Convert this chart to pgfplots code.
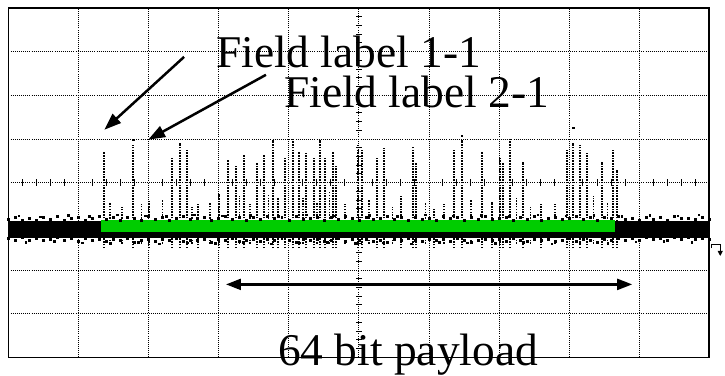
\documentclass[border=0pt]{standalone}
\usepackage{fontspec}
\setmainfont{Liberation Serif}
\usepackage{pgfplots}
\pgfplotsset{compat=1.18}
\usepackage{pgfplotstable}
\usetikzlibrary{arrows.meta}
\definecolor{scopegreen}{RGB}{0,204,0}

% spikes: bottom, top, break
\pgfplotstableread{
x y
1.368 -1.5
1.368 0.71
1.368 nan
1.781 -1.5
1.781 0.87
1.781 nan
2.000 -1.5
2.000 -0.40
2.000 nan
2.336 -1.5
2.336 0.59
2.336 nan
2.450 -1.5
2.450 0.91
2.450 nan
2.550 -1.5
2.550 0.75
2.550 nan
2.700 -1.5
2.700 -0.50
2.700 nan
3.000 -1.5
3.000 -0.25
3.000 nan
3.134 -1.5
3.134 0.53
3.134 nan
3.248 -1.5
3.248 0.37
3.248 nan
3.362 -1.5
3.362 0.64
3.362 nan
3.547 -1.5
3.547 0.46
3.547 nan
3.647 -1.5
3.647 0.64
3.647 nan
3.775 -1.5
3.775 0.98
3.775 nan
3.846 -1.5
3.846 -0.34
3.846 nan
3.946 -1.5
3.946 0.57
3.946 nan
4.060 -1.5
4.060 1.03
4.060 nan
4.145 -1.5
4.145 0.71
4.145 nan
4.245 -1.5
4.245 0.69
4.245 nan
4.359 -1.5
4.359 0.59
4.359 nan
4.444 -1.5
4.444 0.98
4.444 nan
4.516 -1.5
4.516 0.57
4.516 nan
4.630 -1.5
4.630 0.71
4.630 nan
4.672 -1.5
4.672 0.41
4.672 nan
4.986 -1.5
4.986 0.87
4.986 nan
5.043 -1.5
5.043 0.75
5.043 nan
5.256 -1.5
5.256 0.57
5.256 nan
5.356 -1.5
5.356 0.80
5.356 nan
5.600 -1.5
5.600 -0.30
5.600 nan
5.769 -1.5
5.769 0.82
5.769 nan
5.812 -1.5
5.812 0.46
5.812 nan
6.068 -1.5
6.068 -0.60
6.068 nan
6.353 -1.5
6.353 0.75
6.353 nan
6.467 -1.5
6.467 0.98
6.467 nan
6.766 -1.5
6.766 0.71
6.766 nan
6.900 -1.5
6.900 -0.45
6.900 nan
7.023 -1.5
7.023 0.59
7.023 nan
7.066 -1.5
7.066 0.46
7.066 nan
7.165 -1.5
7.165 1.03
7.165 nan
7.350 -1.5
7.350 0.48
7.350 nan
7.600 -1.5
7.600 -0.50
7.600 nan
7.977 -1.5
7.977 0.75
7.977 nan
8.063 -1.5
8.063 0.91
8.063 nan
8.162 -1.5
8.162 0.87
8.162 nan
8.262 -1.5
8.262 0.69
8.262 nan
8.476 -1.5
8.476 0.48
8.476 nan
8.632 -1.5
8.632 0.75
8.632 nan
8.680 -1.5
8.680 0.30
}\spiketab

% short noise bursts just above the band
\pgfplotstableread{
x y
1.45 -1.4
1.45 -0.45
1.45 nan
1.62 -1.4
1.62 -0.55
1.62 nan
1.90 -1.4
1.90 -0.50
1.90 nan
2.20 -1.4
2.20 -0.40
2.20 nan
2.62 -1.4
2.62 -0.55
2.62 nan
2.88 -1.4
2.88 -0.45
2.88 nan
3.30 -1.4
3.30 -0.30
3.30 nan
3.45 -1.4
3.45 -0.50
3.45 nan
3.71 -1.4
3.71 -0.25
3.71 nan
4.20 -1.4
4.20 -0.35
4.20 nan
4.40 -1.4
4.40 -0.45
4.40 nan
4.58 -1.4
4.58 -0.20
4.58 nan
4.80 -1.4
4.80 -0.50
4.80 nan
5.15 -1.4
5.15 -0.40
5.15 nan
5.48 -1.4
5.48 -0.55
5.48 nan
5.95 -1.4
5.95 -0.45
5.95 nan
6.22 -1.4
6.22 -0.50
6.22 nan
6.60 -1.4
6.60 -0.40
6.60 nan
7.25 -1.4
7.25 -0.35
7.25 nan
7.45 -1.4
7.45 -0.55
7.45 nan
7.80 -1.4
7.80 -0.50
7.80 nan
8.35 -1.4
8.35 -0.30
8.35 nan
8.55 -1.4
8.55 -0.45
}\bursttab

\pgfplotstableread{
x y
0.0 -0.76
0.1 -0.72
0.2 -0.78
0.3 -0.74
0.4 -0.80
0.5 -0.73
0.6 -0.77
0.7 -0.71
0.8 -0.79
0.9 -0.75
1.0 -0.72
1.1 -0.78
1.2 -0.74
1.3 -0.70
1.4 -0.76
1.5 -0.73
1.6 -0.79
1.7 -0.72
1.8 -0.75
1.9 -0.78
2.0 -0.71
2.1 -0.76
2.2 -0.73
2.3 -0.79
2.4 -0.74
2.5 -0.70
2.6 -0.77
2.7 -0.75
2.8 -0.72
2.9 -0.78
3.0 -0.74
3.1 -0.71
3.2 -0.77
3.3 -0.73
3.4 -0.79
3.5 -0.72
3.6 -0.76
3.7 -0.70
3.8 -0.75
3.9 -0.73
4.0 -0.78
4.1 -0.71
4.2 -0.76
4.3 -0.74
4.4 -0.72
4.5 -0.79
4.6 -0.73
4.7 -0.77
4.8 -0.71
4.9 -0.75
5.0 -0.78
5.1 -0.72
5.2 -0.76
5.3 -0.74
5.4 -0.70
5.5 -0.77
5.6 -0.73
5.7 -0.79
5.8 -0.72
5.9 -0.76
6.0 -0.74
6.1 -0.78
6.2 -0.71
6.3 -0.75
6.4 -0.73
6.5 -0.79
6.6 -0.72
6.7 -0.76
6.8 -0.70
6.9 -0.77
7.0 -0.74
7.1 -0.72
7.2 -0.78
7.3 -0.73
7.4 -0.76
7.5 -0.71
7.6 -0.79
7.7 -0.74
7.8 -0.72
7.9 -0.77
8.0 -0.75
8.1 -0.70
8.2 -0.76
8.3 -0.73
8.4 -0.78
8.5 -0.72
8.6 -0.75
8.7 -0.71
8.8 -0.77
8.9 -0.74
9.0 -0.79
9.1 -0.72
9.2 -0.76
9.3 -0.73
9.4 -0.78
9.5 -0.71
9.6 -0.75
9.7 -0.74
9.8 -0.77
9.9 -0.72
10.0 -0.76
}\upedge

\pgfplotstableread{
x y
0.0 -1.22
0.1 -1.26
0.2 -1.20
0.3 -1.25
0.4 -1.21
0.5 -1.27
0.6 -1.23
0.7 -1.19
0.8 -1.26
0.9 -1.22
1.0 -1.28
1.1 -1.21
1.2 -1.25
1.3 -1.23
1.4 -1.29
1.5 -1.24
1.6 -1.27
1.7 -1.22
1.8 -1.30
1.9 -1.25
2.0 -1.23
2.1 -1.28
2.2 -1.24
2.3 -1.26
2.4 -1.22
2.5 -1.29
2.6 -1.25
2.7 -1.27
2.8 -1.23
2.9 -1.30
3.0 -1.24
3.1 -1.26
3.2 -1.22
3.3 -1.28
3.4 -1.25
3.5 -1.23
3.6 -1.29
3.7 -1.24
3.8 -1.27
3.9 -1.22
4.0 -1.26
4.1 -1.30
4.2 -1.24
4.3 -1.27
4.4 -1.23
4.5 -1.28
4.6 -1.25
4.7 -1.22
4.8 -1.29
4.9 -1.24
5.0 -1.26
5.1 -1.23
5.2 -1.28
5.3 -1.25
5.4 -1.30
5.5 -1.24
5.6 -1.27
5.7 -1.22
5.8 -1.26
5.9 -1.29
6.0 -1.23
6.1 -1.27
6.2 -1.24
6.3 -1.28
6.4 -1.22
6.5 -1.26
6.6 -1.30
6.7 -1.25
6.8 -1.23
6.9 -1.27
7.0 -1.24
7.1 -1.29
7.2 -1.22
7.3 -1.26
7.4 -1.28
7.5 -1.24
7.6 -1.27
7.7 -1.23
7.8 -1.29
7.9 -1.25
8.0 -1.22
8.1 -1.28
8.2 -1.24
8.3 -1.26
8.4 -1.30
8.5 -1.23
8.6 -1.27
8.7 -1.21
8.8 -1.25
8.9 -1.22
9.0 -1.26
9.1 -1.20
9.2 -1.24
9.3 -1.21
9.4 -1.25
9.5 -1.19
9.6 -1.23
9.7 -1.20
9.8 -1.24
9.9 -1.21
10.0 -1.23
}\lowedge

\begin{document}
\begin{tikzpicture}
\begin{axis}[
  at={(0,0)}, anchor=south west,
  scale only axis, width=702bp, height=350bp,
  xmin=0, xmax=10, ymin=-4, ymax=4,
  xtick={1,...,9}, ytick={-3,...,3},
  xticklabels={}, yticklabels={},
  major tick length=0pt,
  grid=major,
  grid style={black, line width=0.6bp, dash pattern=on 0.8bp off 1.3bp},
  axis line style={black, line width=1.4bp},
  unbounded coords=jump,
  clip=false,
]
% centre graticule ticks
\addplot[only marks, mark=|, mark size=3.5bp, mark options={line width=0.9bp, black}] coordinates {
(0.2,0)(0.4,0)(0.6,0)(0.8,0)(1.2,0)(1.4,0)(1.6,0)(1.8,0)
(2.2,0)(2.4,0)(2.6,0)(2.8,0)(3.2,0)(3.4,0)(3.6,0)(3.8,0)
(4.2,0)(4.4,0)(4.6,0)(4.8,0)(5.2,0)(5.4,0)(5.6,0)(5.8,0)
(6.2,0)(6.4,0)(6.6,0)(6.8,0)(7.2,0)(7.4,0)(7.6,0)(7.8,0)
(8.2,0)(8.4,0)(8.6,0)(8.8,0)(9.2,0)(9.4,0)(9.6,0)(9.8,0)};
\addplot[only marks, mark=-, mark size=3bp, mark options={line width=0.9bp, black}] coordinates {
(5,-3.8)(5,-3.6)(5,-3.4)(5,-3.2)(5,-2.8)(5,-2.6)(5,-2.4)(5,-2.2)
(5,-1.8)(5,-1.6)(5,-1.4)(5,-1.2)(5,-0.8)(5,-0.6)(5,-0.4)(5,-0.2)
(5,0.2)(5,0.4)(5,0.6)(5,0.8)(5,1.2)(5,1.4)(5,1.6)(5,1.8)
(5,2.2)(5,2.4)(5,2.6)(5,2.8)(5,3.2)(5,3.4)(5,3.6)(5,3.8)};
% spikes
\addplot[black, mark=none, line width=2bp, dash pattern=on 1.6bp off 1.1bp] table {\spiketab};
\addplot[black, mark=none, line width=1.6bp, dash pattern=on 1.4bp off 1.4bp] table {\bursttab};
% noise band
\addplot[black, mark=none, line width=17bp, line cap=butt] coordinates {(0,-1.065)(10,-1.065)};
\addplot[only marks, mark=square*, mark size=1bp, black] table[y expr=\thisrow{y}-0.07] {\upedge};
\addplot[only marks, mark=square*, mark size=1bp, black] table[y expr=\thisrow{y}-0.06] {\lowedge};
\addplot[only marks, mark=square*, mark size=0.7bp, black] coordinates {
(0.15,-0.76)(0.45,-0.78)(0.85,-0.75)(1.15,-0.77)(1.55,-0.74)(1.95,-0.76)
(2.25,-0.77)(2.65,-0.73)(3.05,-0.76)(3.45,-0.75)(3.85,-0.77)(4.25,-0.74)
(4.65,-0.76)(5.15,-0.75)(5.55,-0.77)(5.95,-0.73)(6.35,-0.76)(6.75,-0.75)
(7.15,-0.77)(7.55,-0.74)(7.95,-0.76)(8.35,-0.75)(8.75,-0.77)(9.15,-0.75)
(9.55,-0.76)(9.85,-0.74)
(0.25,-1.36)(0.65,-1.34)(1.05,-1.37)(1.45,-1.39)(1.85,-1.36)(2.15,-1.40)
(2.55,-1.37)(2.95,-1.39)(3.35,-1.36)(3.75,-1.40)(4.15,-1.38)(4.55,-1.36)
(4.95,-1.39)(5.35,-1.37)(5.75,-1.40)(6.15,-1.36)(6.55,-1.38)(6.95,-1.39)
(7.35,-1.36)(7.75,-1.40)(8.15,-1.37)(8.55,-1.39)(8.95,-1.35)(9.35,-1.34)
(9.75,-1.36)(8.06,1.26)(6.47,1.08)(1.78,0.98)};
% green payload bar
\addplot[scopegreen, mark=none, line width=12bp, line cap=butt] coordinates {(1.32,-0.983)(8.66,-0.983)};
% annotations
\draw[black, line width=2.5bp, -{Triangle[length=17bp,width=12bp]}] (axis cs:2.507,2.88) -- (axis cs:1.368,1.211);
\draw[black, line width=2.5bp, -{Triangle[length=17bp,width=12bp]}] (axis cs:3.675,2.469) -- (axis cs:1.994,0.983);
\draw[black, line width=2.3bp, {Triangle[length=15bp,width=11bp]}-{Triangle[length=15bp,width=11bp]}] (axis cs:3.105,-2.331) -- (axis cs:8.903,-2.331);
\node[anchor=base west, inner sep=0pt, font=\fontsize{45.5bp}{52bp}\selectfont] at (axis cs:2.963,2.629) {Field label 1-1};
\node[anchor=base west, inner sep=0pt, font=\fontsize{45.5bp}{52bp}\selectfont] at (axis cs:3.932,1.714) {Field label 2-1};
\node[anchor=base west, inner sep=0pt, font=\fontsize{45.5bp}{52bp}\selectfont] at (axis cs:3.846,-4.183) {64 bit payload};
\draw[black, line width=1bp, -{Triangle[length=5bp,width=5bp]}] (axis cs:10.035,-1.50) -- (axis cs:10.035,-1.42) -- (axis cs:10.16,-1.42) -- (axis cs:10.16,-1.68);
\end{axis}
\path[use as bounding box] (-7bp,-16bp) rectangle (718bp,358bp);
\end{tikzpicture}
\end{document}
